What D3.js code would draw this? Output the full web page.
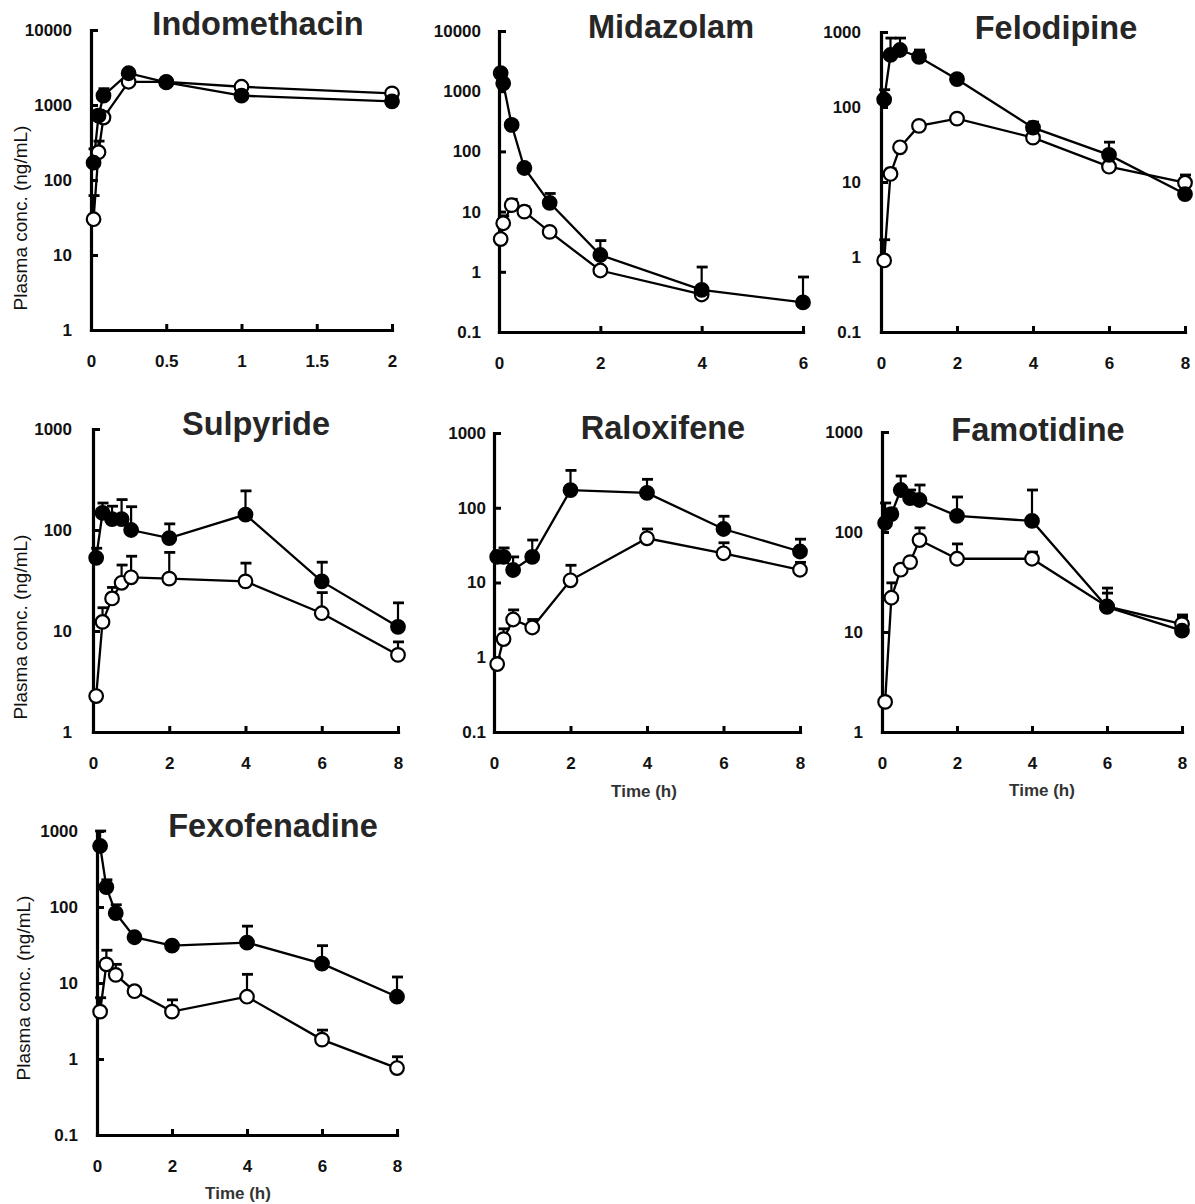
<!DOCTYPE html>
<html>
<head>
<meta charset="utf-8">
<script src="https://cdn.jsdelivr.net/npm/d3@7"></script>
<style>
  body { margin: 0; background: #fff; }
  svg text { font-family: "Liberation Sans", Arial, sans-serif; }
</style>
</head>
<body>
<div id="chart"></div>
<script>
// Indomethacin
const indoTime = [0.017, 0.05, 0.083, 0.25, 0.5, 1, 2];
const indoFilled = [170, 720, 1330, 2650, 2000, 1330, 1120];
const indoFilledUpper = [260, 850, 1650, 2900, 2150, 1450, 1200];
const indoOpen = [30, 235, 680, 2040, 2040, 1750, 1430];
const indoOpenUpper = [62, 330, 800, 2200, 2100, 1850, 1500];

// Midazolam (open series not measured at 6 h)
const midaTime = [0.033, 0.083, 0.25, 0.5, 1, 2, 4, 6];
const midaFilled = [2000, 1350, 275, 53, 14, 1.9, 0.5, 0.31];
const midaFilledUpper = [2300, 1500, 320, 62, 20, 3.3, 1.2, 0.82];
const midaOpen = [3.5, 6.4, 12.8, 10, 4.6, 1.05, 0.42, null];
const midaOpenUpper = [4, 8.5, 16, 12, 5, 1.2, 0.45, null];

// Felodipine
const feloTime = [0.083, 0.25, 0.5, 1, 2, 4, 6, 8];
const feloFilled = [126, 494, 575, 465, 235, 53, 23, 6.9];
const feloFilledUpper = [170, 830, 830, 575, 260, 63, 34, 7.5];
const feloOpen = [0.9, 12.8, 29, 56, 70, 39, 16, 9.8];
const feloOpenUpper = [1.7, 15, 32, 60, 75, 42, 17, 12.4];

// Sulpyride
const sulpTime = [0.083, 0.25, 0.5, 0.75, 1, 2, 4, 6, 8];
const sulpFilled = [53, 148, 128, 128, 100, 83, 142, 31, 11];
const sulpFilledUpper = [66, 185, 172, 200, 170, 115, 244, 48, 19];
const sulpOpen = [2.27, 12.3, 21, 30, 34, 33, 31, 15, 5.8];
const sulpOpenUpper = [2.4, 17, 27, 45, 55, 60, 47, 24, 7.8];

// Raloxifene
const ralTime = [0.083, 0.25, 0.5, 1, 2, 4, 6, 8];
const ralFilled = [22, 22, 14.7, 22, 172, 158, 52, 26];
const ralFilledUpper = [26, 29, 22, 37, 316, 240, 77, 38];
const ralOpen = [0.81, 1.75, 3.2, 2.5, 10.7, 39, 24.6, 14.8];
const ralOpenUpper = [0.9, 2.4, 4.3, 3.2, 17, 52, 34, 18.6];

// Famotidine
const famoTime = [0.083, 0.25, 0.5, 0.75, 1, 2, 4, 6, 8];
const famoFilled = [123, 151, 263, 218, 209, 145, 129, 17.8, 10.3];
const famoFilledUpper = [195, 170, 363, 263, 295, 224, 263, 27.5, 14.8];
const famoOpen = [2.0, 22, 42, 50, 83, 54, 54, 18, 12];
const famoOpenUpper = [2.2, 31, 45, 55, 110, 76, 63, 24.5, 14];

// Fexofenadine
const fexoTime = [0.083, 0.25, 0.5, 1, 2, 4, 6, 8];
const fexoFilled = [635, 183, 83, 40, 31, 34, 18, 6.6];
const fexoFilledUpper = [1000, 228, 107, 42, 33, 56, 31, 12];
const fexoOpen = [4.2, 17.6, 12.8, 7.8, 4.2, 6.6, 1.8, 0.76];
const fexoOpenUpper = [6.4, 27, 17.6, 8.2, 6, 13, 2.4, 1.07];

// Axis ticks
const xTicksShort = [0, 0.5, 1, 1.5, 2];
const xTicks6 = [0, 2, 4, 6];
const xTicks8 = [0, 2, 4, 6, 8];
const yTicks1to10000 = [1, 10, 100, 1000, 10000];
const yTicks01to10000 = [0.1, 1, 10, 100, 1000, 10000];
const yTicks01to1000 = [0.1, 1, 10, 100, 1000];
const yTicks1to1000 = [1, 10, 100, 1000];

const yLabel = "Plasma conc. (ng/mL)";
const xLabel = "Time (h)";

// panel layout (pixel boxes of the axes)
const panels = [
  { title: "Indomethacin", time: indoTime, filled: indoFilled, filledUp: indoFilledUpper,
    open: indoOpen, openUp: indoOpenUpper, xTicks: xTicksShort, yTicks: yTicks1to10000,
    left: 91, right: 392, top: 30, bottom: 330, titleX: 258, titleY: 35, yLab: [20, 218], yPad: 19 },
  { title: "Midazolam", time: midaTime, filled: midaFilled, filledUp: midaFilledUpper,
    open: midaOpen, openUp: midaOpenUpper, xTicks: xTicks6, yTicks: yTicks01to10000,
    left: 499, right: 803, top: 31, bottom: 332, titleX: 671, titleY: 38, yPad: 18 },
  { title: "Felodipine", time: feloTime, filled: feloFilled, filledUp: feloFilledUpper,
    open: feloOpen, openUp: feloOpenUpper, xTicks: xTicks8, yTicks: yTicks01to1000,
    left: 881, right: 1185, top: 32, bottom: 332, titleX: 1056, titleY: 39, yPad: 20 },
  { title: "Sulpyride", time: sulpTime, filled: sulpFilled, filledUp: sulpFilledUpper,
    open: sulpOpen, openUp: sulpOpenUpper, xTicks: xTicks8, yTicks: yTicks1to1000,
    left: 93, right: 398, top: 429, bottom: 732, titleX: 256, titleY: 435, yLab: [20, 627], yPad: 21 },
  { title: "Raloxifene", time: ralTime, filled: ralFilled, filledUp: ralFilledUpper,
    open: ralOpen, openUp: ralOpenUpper, xTicks: xTicks8, yTicks: yTicks01to1000,
    left: 494, right: 800, top: 433, bottom: 732, titleX: 663, titleY: 439, xLab: [644, 797], yPad: 8 },
  { title: "Famotidine", time: famoTime, filled: famoFilled, filledUp: famoFilledUpper,
    open: famoOpen, openUp: famoOpenUpper, xTicks: xTicks8, yTicks: yTicks1to1000,
    left: 882, right: 1182, top: 432, bottom: 732, titleX: 1038, titleY: 441, xLab: [1042, 796], yPad: 19 },
  { title: "Fexofenadine", time: fexoTime, filled: fexoFilled, filledUp: fexoFilledUpper,
    open: fexoOpen, openUp: fexoOpenUpper, xTicks: xTicks8, yTicks: yTicks01to1000,
    left: 97, right: 397, top: 831, bottom: 1135, titleX: 273, titleY: 837, yLab: [23, 988], xLab: [238, 1199], yPad: 19 }
];

const svg = d3.select("#chart")
  .append("svg")
  .attr("width", 1195)
  .attr("height", 1204);

panels.forEach(p => {
  const g = svg.append("g");

  const x = d3.scaleLinear()
    .domain([0, d3.max(p.xTicks)])
    .range([p.left, p.right]);

  const y = d3.scaleLog()
    .domain(d3.extent(p.yTicks))
    .range([p.bottom, p.top]);

  // Y axis, ticks pointing inward
  const yAxis = g.append("g")
    .attr("transform", `translate(${p.left},0)`)
    .call(d3.axisLeft(y).tickValues(p.yTicks).tickFormat(d => String(d))
      .tickSize(-7).tickSizeOuter(0).tickPadding(p.yPad));

  // X axis, ticks pointing up
  const xAxis = g.append("g")
    .attr("transform", `translate(0,${p.bottom})`)
    .call(d3.axisBottom(x).tickValues(p.xTicks).tickFormat(d => String(d))
      .tickSize(-6).tickSizeOuter(0).tickPadding(25));

  [yAxis, xAxis].forEach(a => {
    a.select(".domain").attr("stroke-width", 3.2).attr("stroke-linecap", "square");
    a.selectAll(".tick line").attr("stroke-width", 3);
    a.selectAll(".tick text")
      .attr("font-size", 17)
      .attr("font-weight", "bold")
      .attr("fill", "#111");
  });

  // Title
  g.append("text")
    .attr("x", p.titleX)
    .attr("y", p.titleY)
    .attr("text-anchor", "middle")
    .attr("font-size", 32.5)
    .attr("font-weight", "bold")
    .attr("fill", "#262626")
    .text(p.title);

  if (p.yLab) {
    g.append("text")
      .attr("transform", `translate(${p.yLab[0]},${p.yLab[1]}) rotate(-90)`)
      .attr("text-anchor", "middle")
      .attr("dy", "0.35em")
      .attr("font-size", 19)
      .attr("fill", "#111")
      .text(yLabel);
  }
  if (p.xLab) {
    g.append("text")
      .attr("x", p.xLab[0])
      .attr("y", p.xLab[1])
      .attr("text-anchor", "middle")
      .attr("font-size", 17)
      .attr("font-weight", "bold")
      .attr("fill", "#333")
      .text(xLabel);
  }

  const series = [
    { vals: p.open, up: p.openUp, fill: "#fff" },
    { vals: p.filled, up: p.filledUp, fill: "#000" }
  ].map(s => ({
    fill: s.fill,
    pts: p.time.map((t, i) => ({ t: t, v: s.vals[i], up: s.up[i] })).filter(d => d.v != null)
  }));

  const line = d3.line()
    .x(d => x(d.t))
    .y(d => y(d.v));

  // lines
  series.forEach(s => {
    g.append("path")
      .datum(s.pts)
      .attr("fill", "none")
      .attr("stroke", "#000")
      .attr("stroke-width", 2.3)
      .attr("d", line);
  });

  // error bars (upper only)
  series.forEach(s => {
    const eb = g.append("g").attr("stroke", "#000");
    eb.selectAll(".eb-v")
      .data(s.pts)
      .enter()
      .append("line")
      .attr("x1", d => x(d.t))
      .attr("x2", d => x(d.t))
      .attr("y1", d => y(d.v))
      .attr("y2", d => y(d.up))
      .attr("stroke-width", 2.2);
    eb.selectAll(".eb-cap")
      .data(s.pts)
      .enter()
      .append("line")
      .attr("x1", d => x(d.t) - 5)
      .attr("x2", d => x(d.t) + 6)
      .attr("y1", d => y(d.up))
      .attr("y2", d => y(d.up))
      .attr("stroke-width", 2.8);
  });

  // markers
  series.forEach(s => {
    g.append("g")
      .selectAll("circle")
      .data(s.pts)
      .enter()
      .append("circle")
      .attr("cx", d => x(d.t))
      .attr("cy", d => y(d.v))
      .attr("r", 6.8)
      .attr("fill", s.fill)
      .attr("stroke", "#000")
      .attr("stroke-width", 2.2);
  });
});
</script>
</body>
</html>
